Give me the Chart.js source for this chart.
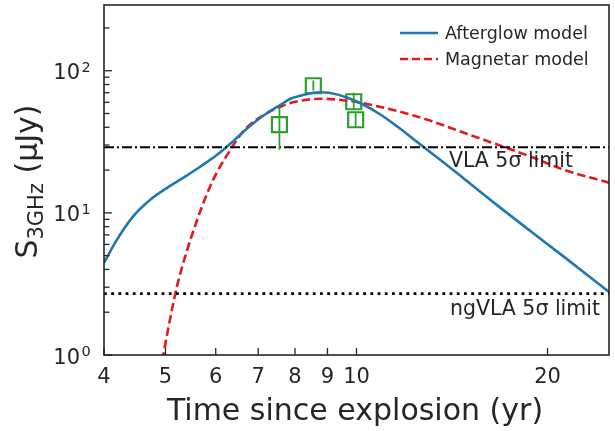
<!DOCTYPE html>
<html>
<head>
<meta charset="utf-8">
<script src="https://cdn.jsdelivr.net/npm/chart.js@4/dist/chart.umd.min.js"></script>
<style>
  html, body { margin: 0; padding: 0; background: #fff; }
  canvas { display: block; }
</style>
</head>
<body>
<canvas id="chart" width="615" height="431"></canvas>
<script>
// afterglow model (blue solid)
const afterglowT = [4.00, 4.19, 4.44, 4.73, 5.03, 5.33, 5.67, 6.03, 6.40, 6.80, 7.24, 7.59, 7.87, 8.22, 8.55, 8.78, 9.10, 9.68, 10.26, 10.92, 11.61, 12.30, 13.09, 14.09, 14.77, 16.71, 18.84, 21.24, 25.0]
const afterglowS = [4.44, 6.45, 9.37, 12.35, 15.0, 17.6, 21.1, 25.6, 32.1, 41.0, 50.6, 57.6, 63.5, 67.2, 70.0, 70.6, 69.6, 64.5, 57.6, 49.0, 40.3, 33.0, 26.6, 20.6, 17.4, 11.2, 7.4, 4.9, 2.78]

// magnetar model (red dashed)
const magnetarT = [4.90, 4.96, 5.08, 5.21, 5.41, 5.61, 5.82, 6.03, 6.33, 6.56, 6.88, 7.24, 7.59, 7.87, 8.30, 8.78, 9.68, 10.53, 11.87, 13.09, 14.77, 16.71, 18.84, 21.24, 25.0]
const magnetarS = [0.75, 1.0, 1.76, 3.01, 5.49, 8.93, 13.8, 19.4, 27.8, 35.4, 43.7, 50.6, 55.8, 59.3, 62.2, 63.5, 61.5, 57.6, 50.6, 44.4, 36.6, 30.1, 24.8, 20.1, 16.3]

// observations with error bars
const obsT = [7.56, 8.55, 9.90, 9.97]
const obsS = [41.7, 78.4, 60.5, 45.2]
const obsLo = [27.8, 72.6, 53.0, 39.6]
const obsHi = [55.7, 85.5, 70.0, 51.4]

const vlaLimit = 29
const ngvlaLimit = 2.7

const xTicks = [4, 5, 6, 7, 8, 9, 10, 20]
const yMajor = [1, 10, 100]
const yMinor = [2, 3, 4, 5, 6, 7, 8, 9, 20, 30, 40, 50, 60, 70, 80, 90, 200]

const X_MIN = 4, X_MAX = 25, Y_MIN = 1, Y_MAX = 290
const ink = '#262626'
const FONT = '"DejaVu Sans", sans-serif'

function pts(xs, ys) {
  return xs.map((x, i) => ({ x: x, y: ys[i] }))
}

const frame = {
  id: 'frame',
  afterDatasetsDraw(chart) {
    const ctx = chart.ctx
    const a = chart.chartArea
    const xs = chart.scales.x, ys = chart.scales.y
    ctx.save()

    // error bars
    ctx.strokeStyle = '#2ca02c'
    ctx.lineWidth = 1.8
    obsT.forEach((t, i) => {
      const px = xs.getPixelForValue(t)
      ctx.beginPath()
      ctx.moveTo(px, ys.getPixelForValue(obsLo[i]))
      ctx.lineTo(px, ys.getPixelForValue(obsHi[i]))
      ctx.stroke()
    })

    // spines
    ctx.strokeStyle = ink
    ctx.lineWidth = 1.6
    ctx.strokeRect(a.left, a.top, a.right - a.left, a.bottom - a.top)

    // x ticks, inward
    ctx.lineWidth = 1.3
    ctx.fillStyle = ink
    ctx.font = '21px ' + FONT
    ctx.textAlign = 'center'
    ctx.textBaseline = 'alphabetic'
    xTicks.forEach(v => {
      const px = xs.getPixelForValue(v)
      ctx.beginPath()
      ctx.moveTo(px, a.bottom)
      ctx.lineTo(px, a.bottom - 7)
      ctx.stroke()
      ctx.fillText(String(v), px, a.bottom + 28)
    })

    // y ticks, inward
    yMinor.forEach(v => {
      const py = ys.getPixelForValue(v)
      ctx.beginPath()
      ctx.moveTo(a.left, py)
      ctx.lineTo(a.left + 5.5, py)
      ctx.stroke()
    })
    yMajor.forEach(v => {
      const py = ys.getPixelForValue(v)
      ctx.beginPath()
      ctx.moveTo(a.left, py)
      ctx.lineTo(a.left + 8, py)
      ctx.stroke()
      const exp = String(Math.round(Math.log10(v)))
      ctx.textAlign = 'right'
      ctx.font = '21px ' + FONT
      ctx.fillText('10', 80, py + 8.5)
      ctx.textAlign = 'left'
      ctx.font = '14.5px ' + FONT
      ctx.fillText(exp, 81.5, py + 1)
    })

    // x title
    ctx.textAlign = 'center'
    ctx.font = '30px ' + FONT
    ctx.fillText('Time since explosion (yr)', 355, 420)

    // y title with subscript
    ctx.save()
    const big = '30px ' + FONT, small = '21px ' + FONT
    ctx.font = big
    const wS = ctx.measureText('S').width
    const wRest = ctx.measureText(' (μJy)').width
    ctx.font = small
    const wSub = ctx.measureText('3GHz').width
    const total = wS + wSub + wRest
    ctx.translate(37, 181.5 + total / 2)
    ctx.rotate(-Math.PI / 2)
    ctx.textAlign = 'left'
    ctx.font = big
    ctx.fillText('S', 0, 0)
    ctx.font = small
    ctx.fillText('3GHz', wS, 6)
    ctx.font = big
    ctx.fillText(' (μJy)', wS + wSub, 0)
    ctx.restore()

    // limit labels
    ctx.textAlign = 'right'
    ctx.textBaseline = 'middle'
    ctx.font = '20.5px ' + FONT
    ctx.fillText('VLA 5σ limit', 573, 162)
    ctx.fillText('ngVLA 5σ limit', 600, 310)

    // legend
    ctx.textAlign = 'left'
    ctx.font = '17.5px ' + FONT
    ctx.lineWidth = 2.5
    ctx.strokeStyle = '#1f77b4'
    ctx.beginPath(); ctx.moveTo(400, 33); ctx.lineTo(438, 33); ctx.stroke()
    ctx.fillText('Afterglow model', 445, 34)
    ctx.strokeStyle = '#e31a1c'
    ctx.setLineDash([8, 4])
    ctx.beginPath(); ctx.moveTo(400, 59); ctx.lineTo(438, 59); ctx.stroke()
    ctx.setLineDash([])
    ctx.fillText('Magnetar model', 445, 60)

    ctx.restore()
  }
}

new Chart(document.getElementById('chart'), {
  type: 'line',
  data: {
    datasets: [
      {
        label: 'VLA 5σ limit',
        data: pts([X_MIN, X_MAX], [vlaLimit, vlaLimit]),
        borderColor: '#000',
        borderWidth: 2,
        borderDash: [10, 3, 2, 3],
        pointRadius: 0,
      },
      {
        label: 'ngVLA 5σ limit',
        data: pts([X_MIN, X_MAX], [ngvlaLimit, ngvlaLimit]),
        borderColor: '#000',
        borderWidth: 2.8,
        borderDash: [2.8, 4.4],
        pointRadius: 0,
      },
      {
        label: 'Afterglow model',
        data: pts(afterglowT, afterglowS),
        borderColor: '#1f77b4',
        borderWidth: 2.6,
        pointRadius: 0,
        cubicInterpolationMode: 'monotone',
      },
      {
        label: 'Magnetar model',
        data: pts(magnetarT, magnetarS),
        borderColor: '#e31a1c',
        borderWidth: 2.6,
        borderDash: [8.5, 4],
        pointRadius: 0,
        cubicInterpolationMode: 'monotone',
      },
      {
        label: 'Observed',
        type: 'scatter',
        data: pts(obsT, obsS),
        pointStyle: 'rect',
        pointRadius: 10.6,
        pointBorderWidth: 2.2,
        borderColor: '#2ca02c',
        backgroundColor: 'rgba(0,0,0,0)',
        showLine: false,
      },
    ],
  },
  options: {
    responsive: false,
    animation: false,
    devicePixelRatio: 1,
    layout: { autoPadding: false, padding: { left: 104, top: 5, right: 6, bottom: 76 } },
    plugins: { legend: { display: false }, tooltip: { enabled: false } },
    scales: {
      x: { type: 'logarithmic', min: X_MIN, max: X_MAX, display: false },
      y: { type: 'logarithmic', min: Y_MIN, max: Y_MAX, display: false },
    },
  },
  plugins: [frame],
})
</script>
</body>
</html>
